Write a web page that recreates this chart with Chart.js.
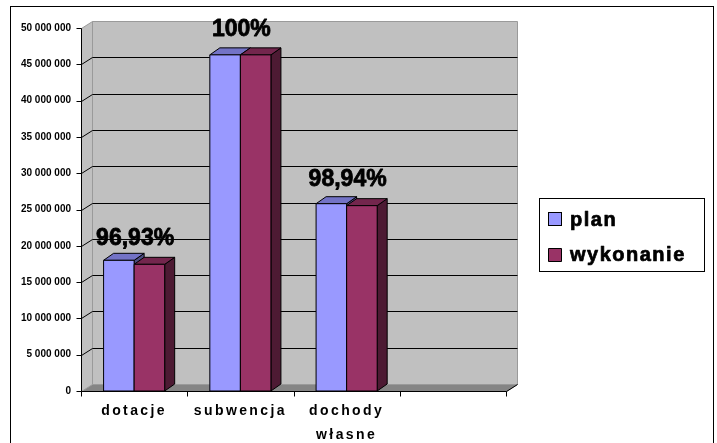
<!DOCTYPE html>
<html>
<head>
<meta charset="utf-8">
<script src="https://cdn.jsdelivr.net/npm/chart.js@4/dist/chart.umd.min.js"></script>
<style>
  html, body { margin: 0; padding: 0; background: #fff; }
  #wrap { position: relative; width: 717px; height: 443px; }
</style>
</head>
<body>
<div id="wrap"><canvas id="chart" width="717" height="443"></canvas></div>
<script>
// Dane wykresu
const categories = ['dotacje', 'subwencja', ['dochody', 'własne'], ''];
const planValues = [18000000, 46300000, 25800000, null];
const wykonanieValues = [17450000, 46300000, 25530000, null];
const percentLabels = ['96,93%', '100%', '98,94%'];
const yTicksMax = 50000000;
const yTicksStep = 5000000;

const FONT = '"Liberation Sans", Arial, sans-serif';

// Kolory (przód, góra, bok)
const seriesColors = [
    { front: '#9999ff', top: '#7373c6', side: '#4d4d80' },
    { front: '#993366', top: '#73264d', side: '#4d1a33' }
];

// Głębokość efektu 3D
const WALL_DX = 11, WALL_DY = -7;
const BAR_DX = 10, BAR_DY = -7;

function formatNumber(v) {
    return String(v).replace(/\B(?=(\d{3})+(?!\d))/g, ' ');
}

function poly(ctx, pts, fill, stroke) {
    ctx.beginPath();
    ctx.moveTo(pts[0][0], pts[0][1]);
    for (let i = 1; i < pts.length; i++) ctx.lineTo(pts[i][0], pts[i][1]);
    ctx.closePath();
    if (fill) { ctx.fillStyle = fill; ctx.fill(); }
    if (stroke) { ctx.strokeStyle = stroke; ctx.lineWidth = 1; ctx.stroke(); }
}

// tekst trochę grubszy, jak w Excelu
function heavyText(ctx, t, x, y, w) {
    ctx.lineWidth = w;
    ctx.strokeStyle = ctx.fillStyle;
    ctx.lineJoin = 'round';
    ctx.strokeText(t, x, y);
    ctx.fillText(t, x, y);
}

// Ściany, podłoga, linie siatki i osie
const wallsPlugin = {
    id: 'walls',
    afterUpdate(chart) {
        const s = chart.scales.x;
        const orig = Object.getPrototypeOf(s).drawLabels;
        s.drawLabels = function (area) {
            this.ctx.save();
            this.ctx.letterSpacing = '2.4px';
            orig.call(this, area);
            this.ctx.restore();
        };
    },
    beforeDatasetsDraw(chart) {
        const { ctx, chartArea: a, scales: { y } } = chart;
        const L = Math.round(a.left) + 0.5, R = Math.round(a.right) + 0.5;
        const T = Math.round(a.top) + 0.5, B = Math.round(a.bottom) + 0.5;
        ctx.save();
        // podłoga
        poly(ctx, [[L, B], [R, B], [R + WALL_DX, B + WALL_DY], [L + WALL_DX, B + WALL_DY]], '#858585', '#858585');
        // ściana boczna
        poly(ctx, [[L, B], [L + WALL_DX, B + WALL_DY], [L + WALL_DX, T + WALL_DY], [L, T]], '#c0c0c0', '#9a9a9a');
        // ściana tylna
        poly(ctx, [[L + WALL_DX, T + WALL_DY], [R + WALL_DX, T + WALL_DY], [R + WALL_DX, B + WALL_DY], [L + WALL_DX, B + WALL_DY]], '#c0c0c0', '#9a9a9a');
        // linie siatki
        ctx.strokeStyle = '#000';
        ctx.lineWidth = 1;
        for (let v = yTicksStep; v < yTicksMax; v += yTicksStep) {
            const py = Math.round(y.getPixelForValue(v)) + 0.5;
            ctx.beginPath();
            ctx.moveTo(L, py);
            ctx.lineTo(L + WALL_DX, py + WALL_DY);
            ctx.lineTo(R + WALL_DX, py + WALL_DY);
            ctx.stroke();
        }
        // oś Y
        ctx.beginPath();
        ctx.moveTo(L, T);
        ctx.lineTo(L, B);
        for (let v = 0; v <= yTicksMax; v += yTicksStep) {
            const py = Math.round(y.getPixelForValue(v)) + 0.5;
            ctx.moveTo(L - 5, py);
            ctx.lineTo(L, py);
        }
        ctx.stroke();
        // oś X
        ctx.beginPath();
        ctx.moveTo(L, B);
        ctx.lineTo(R, B);
        ctx.lineTo(R + WALL_DX, B + WALL_DY);
        const w = (a.right - a.left) / categories.length;
        for (let i = 0; i <= categories.length; i++) {
            const px = Math.round(a.left + i * w) + 0.5;
            ctx.moveTo(px, B);
            ctx.lineTo(px, B + 5);
        }
        ctx.stroke();
        ctx.restore();
    },
    afterDatasetsDraw(chart) {
        const { ctx } = chart;
        ctx.save();
        const metas = chart.data.datasets.map((d, i) => chart.getDatasetMeta(i));
        for (let i = 0; i < categories.length; i++) {
            metas.forEach((meta, di) => {
                const el = meta.data[i];
                const val = chart.data.datasets[di].data[i];
                if (!el || val == null) return;
                const c = seriesColors[di];
                const x0 = el.x - el.width / 2, x1 = el.x + el.width / 2;
                const top = el.y, base = el.base;
                poly(ctx, [[x1, base], [x1 + BAR_DX, base + BAR_DY], [x1 + BAR_DX, top + BAR_DY], [x1, top]], c.side, '#000');
                poly(ctx, [[x0, top], [x1, top], [x1 + BAR_DX, top + BAR_DY], [x0 + BAR_DX, top + BAR_DY]], c.top, '#000');
                poly(ctx, [[x0, top], [x1, top], [x1, base], [x0, base]], c.front, '#000');
            });
        }
        // etykiety procentowe
        ctx.fillStyle = '#000';
        ctx.font = 'bold 23px ' + FONT;
        ctx.textAlign = 'center';
        ctx.textBaseline = 'middle';
        const xs = chart.scales.x;
        percentLabels.forEach((t, i) => {
            const el = metas[1].data[i];
            heavyText(ctx, t, xs.getPixelForValue(i) + 1, el.y - 25.5, 0.8);
        });
        ctx.restore();
    },
    afterDraw(chart) {
        const { ctx } = chart;
        ctx.save();
        // ramka wykresu
        ctx.strokeStyle = '#000';
        ctx.lineWidth = 1;
        ctx.strokeRect(10.5, 6.5, 703, 460);
        // legenda
        ctx.fillStyle = '#fff';
        ctx.fillRect(539.5, 198.5, 165, 73);
        ctx.strokeRect(539.5, 198.5, 165, 73);
        ctx.font = 'bold 20px ' + FONT;
        ctx.letterSpacing = '1.5px';
        ctx.textAlign = 'left';
        ctx.textBaseline = 'alphabetic';
        chart.data.datasets.forEach((d, i) => {
            const sy = i === 0 ? 212 : 248;
            ctx.fillStyle = seriesColors[i].front;
            ctx.fillRect(548.5, sy + 0.5, 13, 13);
            ctx.strokeStyle = '#000';
            ctx.lineWidth = 1;
            ctx.strokeRect(548.5, sy + 0.5, 13, 13);
            ctx.fillStyle = '#000';
            heavyText(ctx, d.label, 570, i === 0 ? 226 : 261, 0.7);
        });
        ctx.restore();
    }
};

const ctx = document.getElementById('chart').getContext('2d');
new Chart(ctx, {
    type: 'bar',
    data: {
        labels: categories,
        datasets: [
            { label: 'plan', data: planValues, backgroundColor: seriesColors[0].front, borderColor: '#000', borderWidth: 0 },
            { label: 'wykonanie', data: wykonanieValues, backgroundColor: seriesColors[1].front, borderColor: '#000', borderWidth: 0 }
        ]
    },
    options: {
        responsive: false,
        animation: false,
        devicePixelRatio: 1,
        layout: { padding: { top: 28, right: 211, left: 0, bottom: 0 } },
        datasets: { bar: { barPercentage: 1, categoryPercentage: 0.575 } },
        plugins: {
            legend: { display: false },
            tooltip: { enabled: false }
        },
        scales: {
            x: {
                grid: { display: false, drawTicks: false },
                border: { display: false },
                ticks: {
                    color: '#000',
                    padding: 9,
                    maxRotation: 0,
                    autoSkip: false,
                    font: { family: FONT, size: 14, weight: 'bold', lineHeight: 1.65 }
                },
                afterFit: s => { s.height = 52; }
            },
            y: {
                min: 0,
                max: yTicksMax,
                grid: { display: false, drawTicks: false },
                border: { display: false },
                ticks: {
                    stepSize: yTicksStep,
                    color: '#000',
                    padding: 10,
                    font: { family: FONT, size: 10, weight: 'bold' },
                    callback: v => formatNumber(v)
                },
                afterFit: s => { s.width = 81; }
            }
        }
    },
    plugins: [wallsPlugin]
});
</script>
</body>
</html>
